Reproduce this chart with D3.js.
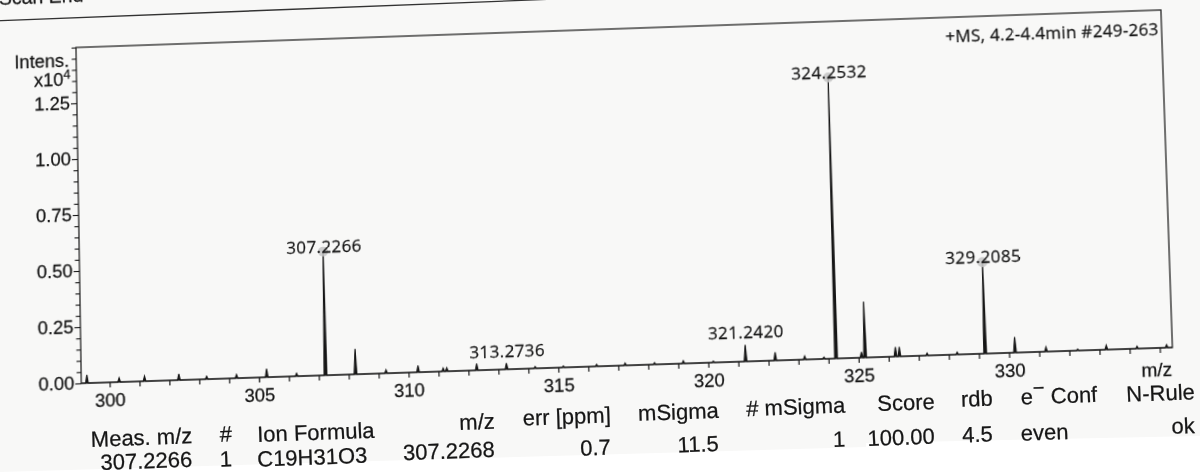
<!DOCTYPE html>
<html>
<head>
<meta charset="utf-8">
<script src="https://cdn.jsdelivr.net/npm/d3@7"></script>
<style>
  html, body { margin: 0; padding: 0; background: #f8f8f7; }
  #page { position: relative; width: 1200px; height: 474px; overflow: hidden; background: #f8f8f7; }
  #page svg { position: absolute; left: 0; top: 0; overflow: visible; }
  text { stroke: #161616; stroke-width: 0.25px; }
</style>
</head>
<body>
<div id="page"></div>
<script>
// ---- spectrum data: centroid m/z and intensity (x10^4) of each profile peak ----
const peakMz = [299.24, 300.32, 301.17, 302.32, 303.25, 304.25, 305.26, 306.26,
  307.2266, 308.23, 309.25, 310.32, 311.16, 311.28, 312.28, 313.2736, 314.23,
  315.17, 316.28, 317.23, 318.21, 319.17, 320.17, 321.2420, 322.23, 323.21,
  323.85, 324.2532, 325.10, 325.22, 326.23, 326.36, 327.28, 328.28, 329.2085,
  330.20, 331.23, 332.28, 333.23, 334.25, 335.23];
const peakIntensity = [0.036, 0.018, 0.022, 0.027, 0.013, 0.016, 0.037, 0.013,
  0.55, 0.113, 0.015, 0.030, 0.014, 0.015, 0.030, 0.027, 0.008,
  0.006, 0.009, 0.010, 0.008, 0.012, 0.006, 0.074, 0.036, 0.015,
  0.008, 1.25, 0.025, 0.248, 0.042, 0.042, 0.010, 0.010, 0.405,
  0.069, 0.020, 0.006, 0.019, 0.010, 0.013];

// annotated peaks; the first group also carries a compound marker
const labelMz = [307.2266, 313.2736, 321.2420, 324.2532, 329.2085];
const labelText = ["307.2266", "313.2736", "321.2420", "324.2532", "329.2085"];
const markedMz = [307.2266, 324.2532, 329.2085];

// axes
const xDomain = [299.05, 335.42];
const yDomain = [0, 1.5];
const xTickValues = d3.range(300, 336);
const xTickLabels = [300, 305, 310, 315, 320, 325, 330];
const yTickValues = d3.range(0, 31).map(i => i / 20);
const yTickLabels = [0, 0.25, 0.5, 0.75, 1.0, 1.25];
const xAxisTitle = "m/z";
const yAxisTitle = "Intens.";
const yAxisScale = "x10";
const yAxisScaleExp = "4";
const spectrumTitle = "+MS, 4.2-4.4min #249-263";
const pageHeader = "Scan End";

// SmartFormula result table
const tableHeaders = ["Meas. m/z", "#", "Ion Formula", "m/z", "err [ppm]", "mSigma", "# mSigma", "Score", "rdb", "e\u2212 Conf", "N-Rule"];
const tableValues = ["307.2266", "1", "C19H31O3", "307.2268", "0.7", "11.5", "1", "100.00", "4.5", "even", "ok"];

// ---------------------------------------------------------------------------
const W = 1200, H = 474;
const page = d3.select("#page");

// paper background (lower strip is brighter)
const bg = page.append("svg").attr("width", W).attr("height", H);
bg.append("path")
  .attr("d", "M0,474 L0,472 L340,462 L866,447 L866,443 L1200,436 L1200,474 Z")
  .attr("fill", "#ffffff");

// ---- chart, drawn flat and then mapped onto the tilted sheet ----
const frame = { x0: 76, y0: 47, x1: 1166, y1: 383 };
const svg = page.append("svg").attr("width", W).attr("height", H);

const x = d3.scaleLinear().domain(xDomain).range([frame.x0, frame.x1]);
const y = d3.scaleLinear().domain(yDomain).range([frame.y1, frame.y0]);

const ink = "#161616";
const axisFont = "'Liberation Sans', Arial, sans-serif";
const labelFont = "'Open Sans', 'Noto Sans', sans-serif";

// frame
svg.append("rect")
  .attr("x", frame.x0).attr("y", frame.y0)
  .attr("width", frame.x1 - frame.x0).attr("height", frame.y1 - frame.y0)
  .attr("fill", "none").attr("stroke", "#262626").attr("stroke-width", 1.3);

// x axis
const xAxis = svg.append("g")
  .attr("transform", `translate(0,${frame.y1})`)
  .call(d3.axisBottom(x).tickValues(xTickValues).tickSize(5).tickPadding(6)
    .tickFormat(d => xTickLabels.includes(d) ? String(d) : ""));
xAxis.select(".domain").remove();
xAxis.selectAll("line").attr("stroke", ink).attr("stroke-width", 1.2);
xAxis.selectAll("text").attr("fill", ink).style("font-family", axisFont).style("font-size", "18.5px");

svg.append("text")
  .attr("x", frame.x1 - 1).attr("y", frame.y1 + 28)
  .attr("text-anchor", "end").attr("fill", ink)
  .style("font-family", axisFont).style("font-size", "19px")
  .text(xAxisTitle);

// y axis
const isMajor = d => yTickLabels.some(v => Math.abs(v - d) < 1e-9);
const yAxis = svg.append("g")
  .attr("transform", `translate(${frame.x0},0)`)
  .call(d3.axisLeft(y).tickValues(yTickValues).tickSize(5).tickPadding(2)
    .tickFormat(d => isMajor(d) ? d3.format(".2f")(d) : ""));
yAxis.select(".domain").remove();
yAxis.selectAll("line").attr("stroke", ink).attr("stroke-width", 1.1)
  .attr("x2", d => isMajor(d) ? -6 : -4.5);
yAxis.selectAll("text").attr("fill", ink).style("font-family", axisFont).style("font-size", "18.5px");

svg.append("text")
  .attr("x", frame.x0 - 7).attr("y", y(1.445) + 6.5)
  .attr("text-anchor", "end").attr("fill", ink)
  .style("font-family", axisFont).style("font-size", "18.5px")
  .text(yAxisTitle);
const scaleText = svg.append("text")
  .attr("x", frame.x0 - 6).attr("y", y(1.36) + 6.5)
  .attr("text-anchor", "end").attr("fill", ink)
  .style("font-family", axisFont).style("font-size", "18.5px");
scaleText.append("tspan").text(yAxisScale);
scaleText.append("tspan").attr("dy", -7).style("font-size", "13px").text(yAxisScaleExp);

// spectrum trace: baseline with a narrow profile at each peak
const halfWidth = 0.045;
const trace = [[xDomain[0], 0]];
peakMz.forEach((m, i) => {
  trace.push([m - halfWidth, 0], [m, peakIntensity[i]], [m + halfWidth, 0]);
});
trace.push([xDomain[1], 0]);
svg.append("path")
  .datum(trace)
  .attr("d", d3.line().x(d => x(d[0])).y(d => y(d[1])))
  .attr("fill", ink).attr("stroke", ink).attr("stroke-width", 1.2)
  .attr("stroke-linejoin", "miter");

// spectrum title
svg.append("text")
  .attr("x", frame.x1 - 3).attr("y", frame.y0 + 25)
  .attr("text-anchor", "end").attr("fill", ink)
  .style("font-family", labelFont).style("font-size", "17px")
  .style("letter-spacing", "0.3px")
  .text(spectrumTitle);

// peak annotations
const heightAt = m => peakIntensity[d3.minIndex(peakMz, p => Math.abs(p - m))];
const ann = labelMz.map((m, i) => ({ m, h: heightAt(m), text: labelText[i], marked: markedMz.includes(m) }));

svg.selectAll("circle.marker")
  .data(ann.filter(d => d.marked))
  .join("circle")
  .attr("class", "marker")
  .attr("cx", d => x(d.m)).attr("cy", d => y(d.h)).attr("r", 5)
  .attr("fill", "#c4c4c4").attr("fill-opacity", 0.85);

svg.selectAll("text.peak")
  .data(ann)
  .join("text")
  .attr("class", "peak")
  .attr("x", d => x(d.m) + 1)
  .attr("y", d => d.marked ? y(d.h) + 1 : y(d.h) - 6)
  .attr("text-anchor", "middle").attr("fill", ink)
  .style("font-family", labelFont).style("font-size", "17px")
  .style("letter-spacing", "0.4px")
  .text(d => d.text);

// ---- projective mapping of the flat chart onto the scanned sheet ----
function homography(src, dst) {
  const A = [], b = [];
  for (let i = 0; i < 4; i++) {
    const [sx, sy] = src[i], [u, v] = dst[i];
    A.push([sx, sy, 1, 0, 0, 0, -u * sx, -u * sy]); b.push(u);
    A.push([0, 0, 0, sx, sy, 1, -v * sx, -v * sy]); b.push(v);
  }
  const n = 8;
  for (let c = 0; c < n; c++) {
    let p = c;
    for (let r = c + 1; r < n; r++) if (Math.abs(A[r][c]) > Math.abs(A[p][c])) p = r;
    [A[c], A[p]] = [A[p], A[c]]; [b[c], b[p]] = [b[p], b[c]];
    for (let r = 0; r < n; r++) {
      if (r === c) continue;
      const f = A[r][c] / A[c][c];
      for (let k = c; k < n; k++) A[r][k] -= f * A[c][k];
      b[r] -= f * b[c];
    }
  }
  return b.map((v, i) => v / A[i][i]);
}
const sheetCorners = [[76, 47.5], [1161, 10], [81.3, 383.3], [1172.5, 347.5]];
const h = homography(
  [[frame.x0, frame.y0], [frame.x1, frame.y0], [frame.x0, frame.y1], [frame.x1, frame.y1]],
  sheetCorners);
svg.style("transform-origin", "0 0")
  .style("transform", `matrix3d(${h[0]},${h[3]},0,${h[6]},${h[1]},${h[4]},0,${h[7]},0,0,1,0,${h[2]},${h[5]},0,1)`);

// ---- page header and result table ----
const doc = page.append("svg").attr("width", W).attr("height", H);
const tilt = -2.1;

doc.append("line")
  .attr("x1", -5).attr("y1", 20.9).attr("x2", 560).attr("y2", -1.1)
  .attr("stroke", "#333").attr("stroke-width", 1.4);
doc.append("text")
  .attr("x", -1).attr("y", 4.5)
  .attr("transform", `rotate(${tilt - 0.2},-1,4.5)`)
  .attr("fill", ink).style("font-family", axisFont).style("font-size", "19.5px")
  .text(pageHeader);

// column anchors of the table (x, alignment, header baseline, value baseline)
const tableColumns = [
  { x: 192.5, a: "end",    hy: 443.2, vy: 466.7 },
  { x: 226,   a: "middle", hy: 441.6, vy: 466.6 },
  { x: 257.5, a: "start",  hy: 442.0, vy: 466.7 },
  { x: 495,   a: "end",    hy: 428.6, vy: 456.9 },
  { x: 611,   a: "end",    hy: 422.4, vy: 454.6 },
  { x: 719,   a: "end",    hy: 417.9, vy: 451.0 },
  { x: 845.5, a: "end",    hy: 412.5, vy: 446.6 },
  { x: 935,   a: "end",    hy: 409.0, vy: 443.6 },
  { x: 993,   a: "end",    hy: 405.5, vy: 441.3 },
  { x: 1021,  a: "start",  hy: 404.6, vy: 440.7 },
  { x: 1195,  a: "end",    hy: 399.3, vy: 433.0 }
];

function cell(txt, col, yy) {
  const t = doc.append("text")
    .attr("x", col.x).attr("y", yy)
    .attr("transform", `rotate(${tilt},${col.x},${yy})`)
    .attr("text-anchor", col.a).attr("fill", ink)
    .style("font-family", axisFont).style("font-size", "22px");
  const parts = txt.split("\u2212");
  if (parts.length === 2) {
    t.append("tspan").text(parts[0]);
    t.append("tspan").attr("dy", -9.5).style("font-size", "20px").text("\u2212");
    t.append("tspan").attr("dy", 9.5).text(parts[1]);
  } else {
    t.text(txt);
  }
}
tableHeaders.forEach((txt, i) => cell(txt, tableColumns[i], tableColumns[i].hy));
tableValues.forEach((txt, i) => cell(txt, tableColumns[i], tableColumns[i].vy));
</script>
</body>
</html>
